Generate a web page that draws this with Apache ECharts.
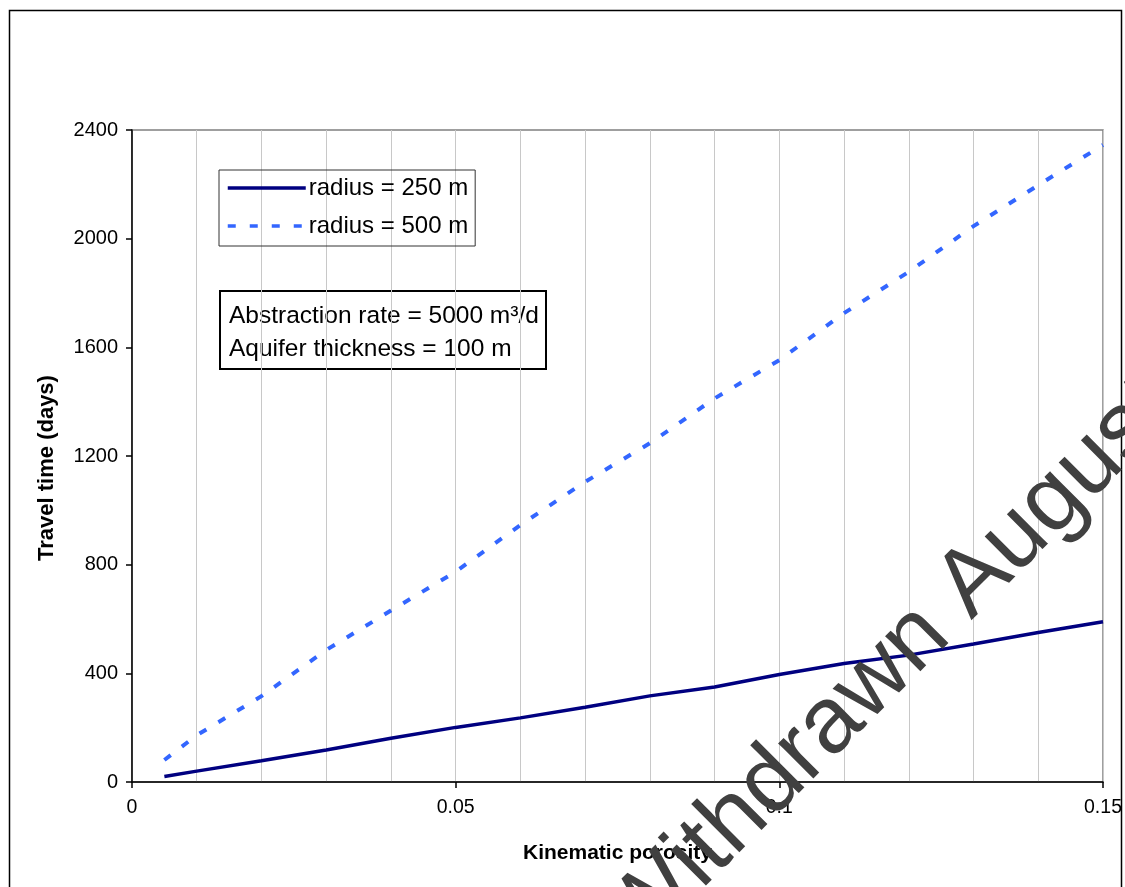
<!DOCTYPE html>
<html>
<head>
<meta charset="utf-8">
<script src="https://cdn.jsdelivr.net/npm/echarts@6/dist/echarts.min.js"></script>
<style>
html,body{margin:0;padding:0;background:#fff;}
#chart{width:1125px;height:887px;}
</style>
</head>
<body>
<div id="chart"></div>
<script>
// Kinematic porosity (x)
const porosity = [0.005, 0.01, 0.02, 0.03, 0.04, 0.05, 0.06, 0.07, 0.08, 0.09, 0.10, 0.11, 0.12, 0.13, 0.14, 0.15];
// Travel time (days)
const radius250 = [20, 40, 78, 118, 161, 201, 236, 275, 317, 350, 396, 436, 467, 508, 550, 590];
const radius500 = [81, 172, 316, 486, 631, 774, 946, 1105, 1247, 1412, 1553, 1726, 1878, 2046, 2197, 2345];
const seriesNames = ['radius = 250 m', 'radius = 500 m'];
const xTicks = [0, 0.05, 0.1, 0.15];
const yTicks = [0, 400, 800, 1200, 1600, 2000, 2400];
const xTickLabels = ['0', '0.05', '0.1', '0.15'];
const yTickLabels = ['0', '400', '800', '1200', '1600', '2000', '2400'];
const noteLines = ['Abstraction rate = 5000 m³/d', 'Aquifer thickness = 100 m'];
const watermark = 'Withdrawn August';

const FONT = '"Liberation Sans", Arial, sans-serif';
const chart = echarts.init(document.getElementById('chart'), null, {renderer: 'canvas'});

const pairs = (ys) => porosity.map((x, i) => [x, ys[i]]);
const tickLabel = (ticks, labels) => (v) => {
  const i = ticks.findIndex(t => Math.abs(t - v) < 1e-9);
  return i >= 0 ? labels[i] : '';
};

chart.setOption({
  animation: false,
  backgroundColor: '#ffffff',
  textStyle: {fontFamily: FONT},
  grid: {left: 132, top: 130, right: 22, bottom: 105, show: true, borderColor: '#808080', borderWidth: 1.5, backgroundColor: 'transparent'},
  legend: {
    orient: 'vertical', left: 219, top: 170,
    padding: [5, 7, 7, 7], itemGap: 12,
    itemWidth: 78, itemHeight: 14,
    borderColor: '#333', borderWidth: 1,
    itemStyle: {opacity: 0},
    lineStyle: {width: 3.5},
    textStyle: {fontSize: 24, color: '#000', fontFamily: FONT, lineHeight: 26, padding: [0, 0, 0, -2]},
    data: seriesNames
  },
  xAxis: {
    type: 'value', min: xTicks[0], max: xTicks[xTicks.length - 1], interval: xTicks[1] - xTicks[0],
    name: 'Kinematic porosity', nameLocation: 'middle', nameGap: 61,
    nameTextStyle: {fontSize: 21, fontWeight: 'bold', color: '#000', fontFamily: FONT},
    axisLine: {onZero: false, lineStyle: {color: '#000', width: 1.5}},
    axisTick: {show: true, inside: false, length: 6, lineStyle: {color: '#000', width: 1.5}},
    axisLabel: {fontSize: 19.5, color: '#000', margin: 16, fontFamily: FONT, formatter: tickLabel(xTicks, xTickLabels)},
    splitLine: {show: true, lineStyle: {color: '#c8c8c8', width: 1}},
    minorTick: {show: false, splitNumber: 5},
    minorSplitLine: {show: true, lineStyle: {color: '#c8c8c8', width: 1}}
  },
  yAxis: {
    type: 'value', min: yTicks[0], max: yTicks[yTicks.length - 1], interval: yTicks[1] - yTicks[0],
    name: 'Travel time (days)', nameLocation: 'middle', nameGap: 74, nameRotate: 90,
    nameTextStyle: {fontSize: 22, fontWeight: 'bold', color: '#000', fontFamily: FONT, padding: [0, 24, 0, 0]},
    axisLine: {show: true, onZero: false, lineStyle: {color: '#000', width: 1.5}},
    axisTick: {show: true, inside: false, length: 6, lineStyle: {color: '#000', width: 1.5}},
    axisLabel: {fontSize: 20, color: '#000', margin: 14, fontFamily: FONT, formatter: tickLabel(yTicks, yTickLabels)},
    splitLine: {show: false}
  },
  series: [
    {
      name: seriesNames[0], type: 'line', data: pairs(radius250),
      symbol: 'none', symbolSize: 0, showSymbol: false, smooth: false,
      lineStyle: {color: '#000080', width: 3.5, type: 'solid'},
      itemStyle: {color: '#000080'}, z: 3
    },
    {
      name: seriesNames[1], type: 'line', data: pairs(radius500),
      symbol: 'none', symbolSize: 0, showSymbol: false, smooth: false,
      lineStyle: {color: '#3366FF', width: 4, type: [8, 14], cap: 'butt'},
      itemStyle: {color: '#3366FF'}, z: 3
    }
  ],
  graphic: [
    {
      type: 'rect', z: 100, silent: true,
      shape: {x: 9.5, y: 10.5, width: 1112, height: 950},
      style: {fill: 'none', stroke: '#000', lineWidth: 1.5}
    },
    {
      type: 'group', z: 100, left: 219, top: 290,
      children: [
        {type: 'rect', shape: {x: 0, y: 0, width: 326, height: 78},
         style: {fill: '#fff', stroke: '#000', lineWidth: 2}},
        {type: 'text', x: 9, y: 9,
         style: {text: noteLines.join('\n'), font: '24.5px ' + FONT, fill: '#000', lineHeight: 33}}
      ]
    },
    {
      type: 'text', z: 200, silent: true,
      x: 641, y: 955, rotation: Math.PI / 4,
      style: {text: watermark, x: 0, y: -29, font: '94px ' + FONT, fill: '#404040', verticalAlign: 'middle', align: 'left'}
    }
  ]
});
</script>
</body>
</html>
